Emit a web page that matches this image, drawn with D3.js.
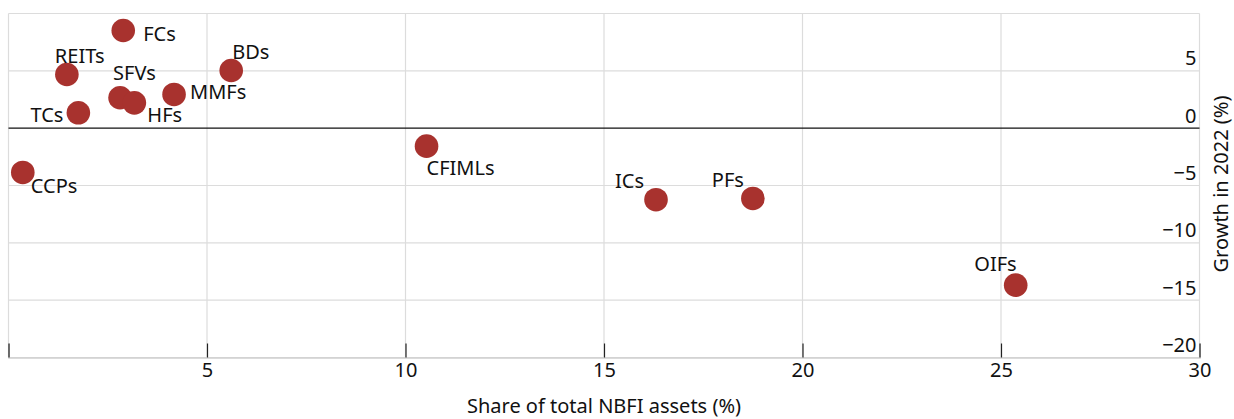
<!DOCTYPE html>
<html>
<head>
<meta charset="utf-8">
<script src="https://cdn.jsdelivr.net/npm/d3@7"></script>
<style>
  html, body { margin: 0; padding: 0; background: #fff; }
  svg { display: block; font-family: "Noto Sans", "Open Sans", sans-serif; }
</style>
</head>
<body>
<svg id="chart" width="1234" height="419"></svg>
<script>
// ---- Data ----
const sectors = ["FCs", "REITs", "BDs", "SFVs", "HFs", "MMFs", "TCs", "CCPs", "CFIMLs", "ICs", "PFs", "OIFs"];
const shareOfAssets = [2.89, 1.47, 5.61, 2.81, 3.17, 4.17, 1.76, 0.36, 10.53, 16.31, 18.75, 25.37];
const growth2022 = [8.52, 4.68, 5.03, 2.65, 2.21, 2.94, 1.34, -3.86, -1.57, -6.24, -6.13, -13.69];
const xTicks = [0, 5, 10, 15, 20, 25, 30];
const xTickLabels = ["", "5", "10", "15", "20", "25", "30"];
const yTicks = [10, 5, 0, -5, -10, -15, -20];
const yTickLabels = ["", "5", "0", "\u22125", "\u221210", "\u221215", "\u221220"];
const xTitle = "Share of total NBFI assets (%)";
const yTitle = "Growth in 2022 (%)";

// ---- Label placement (layout only) ----
const labelPlacement = {
  FCs:    { anchor: "start", dx: 20,  dy: 11 },
  REITs:  { anchor: "start", dx: -12, dy: -12 },
  BDs:    { anchor: "start", dx: 1,   dy: -11 },
  SFVs:   { anchor: "start", dx: -7,  dy: -18 },
  HFs:    { anchor: "start", dx: 13,  dy: 19 },
  MMFs:   { anchor: "start", dx: 16,  dy: 5 },
  TCs:    { anchor: "end",   dx: -15, dy: 9 },
  CCPs:   { anchor: "start", dx: 8,   dy: 21 },
  CFIMLs: { anchor: "start", dx: 0,   dy: 29 },
  ICs:    { anchor: "end",   dx: -12, dy: -12 },
  PFs:    { anchor: "end",   dx: -9,  dy: -11 },
  OIFs:   { anchor: "end",   dx: 1,   dy: -14 }
};

const points = sectors.map((s, i) => ({ name: s, x: shareOfAssets[i], y: growth2022[i] }));

const svg = d3.select("#chart");
const mLeft = 8.5, mRight = 1199.5, mTop = 13.5, mBottom = 357.5;
const fontSize = 20;

const x = d3.scaleLinear().domain([0, 30]).range([mLeft, mRight]);
const y = d3.scaleLinear().domain([-20, 10]).range([mBottom, mTop]);

const grid = svg.append("g");
grid.selectAll("line.v").data(xTicks).join("line")
  .attr("x1", d => x(d)).attr("x2", d => x(d))
  .attr("y1", mTop).attr("y2", mBottom)
  .attr("stroke", "#dcdcdc").attr("stroke-width", 1.2);
grid.selectAll("line.h").data(yTicks.filter(d => d !== 0)).join("line")
  .attr("x1", mLeft).attr("x2", mRight)
  .attr("y1", d => y(d)).attr("y2", d => y(d))
  .attr("stroke", "#dcdcdc").attr("stroke-width", 1.2);

const xAxis = d3.axisBottom(x).tickValues(xTicks).tickSize(-14).tickFormat((d, i) => xTickLabels[i]);
const gx = svg.append("g").attr("transform", `translate(0,${mBottom})`).call(xAxis);
gx.select(".domain").attr("stroke", "#d0d0d0").attr("stroke-width", 1.6);
gx.selectAll(".tick line").attr("stroke", "#222").attr("stroke-width", 1.2);
gx.selectAll(".tick text")
  .attr("font-size", fontSize).attr("font-family", "Noto Sans, sans-serif")
  .attr("fill", "#111").attr("y", 5).attr("dy", "0.71em");

svg.append("line")
  .attr("x1", mLeft).attr("x2", mRight)
  .attr("y1", y(0)).attr("y2", y(0))
  .attr("stroke", "#111").attr("stroke-width", 1.3);

const yAxis = d3.axisRight(y).tickValues(yTicks).tickSize(0).tickFormat((d, i) => yTickLabels[i]);
const gy = svg.append("g").attr("transform", `translate(${mRight - 3},0)`).call(yAxis);
gy.select(".domain").remove();
gy.selectAll(".tick text")
  .attr("font-size", fontSize).attr("font-family", "Noto Sans, sans-serif")
  .attr("fill", "#111").attr("text-anchor", "end").attr("x", 0).attr("dy", -6);

svg.append("g").selectAll("circle").data(points).join("circle")
  .attr("cx", d => x(d.x)).attr("cy", d => y(d.y)).attr("r", 11.8)
  .attr("fill", "#a8322e");

svg.append("g").selectAll("text").data(points).join("text")
  .attr("x", d => x(d.x) + labelPlacement[d.name].dx)
  .attr("y", d => y(d.y) + labelPlacement[d.name].dy)
  .attr("text-anchor", d => labelPlacement[d.name].anchor)
  .attr("font-size", fontSize).attr("fill", "#111")
  .text(d => d.name);

svg.append("text")
  .attr("x", 604).attr("y", 413)
  .attr("text-anchor", "middle").attr("font-size", fontSize).attr("fill", "#111")
  .text(xTitle);
svg.append("text")
  .attr("transform", `translate(1228,${184}) rotate(-90)`)
  .attr("text-anchor", "middle").attr("font-size", fontSize).attr("fill", "#111")
  .text(yTitle);
</script>
</body>
</html>
